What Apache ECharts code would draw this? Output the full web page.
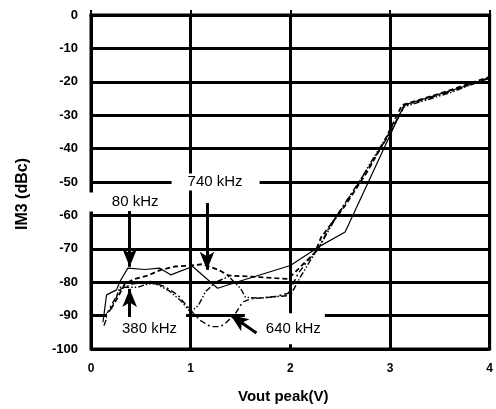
<!DOCTYPE html>
<html><head><meta charset="utf-8">
<script src="https://cdn.jsdelivr.net/npm/echarts@6/dist/echarts.min.js"></script>
<style>html,body{margin:0;padding:0;background:#fff}#c{width:496px;height:409px}</style>
</head><body><div id="c"></div>
<script>
// 80 kHz (solid)
const x80 = [0.12,0.156,0.256,0.29,0.37,0.54,0.69,0.80,1.02,1.27,1.45,2.0,2.28,2.55,3.14,4.0];
const y80 = [-92,-83.8,-82.3,-79.8,-75.8,-76.2,-75.8,-77.8,-75.3,-81.8,-80.1,-75,-69.5,-65,-27,-19];
// 380 kHz (dash-dot-dot)
const x380 = [0.13,0.18,0.25,0.29,0.47,0.57,0.65,0.78,0.9,1.0,1.08,1.15,1.25,1.38,1.5,1.55,1.7,1.9,2.0,2.1,2.2,2.28,2.45,2.65,2.85,3.0,3.14,3.6,4.0];
const y380 = [-93,-89,-85,-81.5,-81.5,-80.5,-80.5,-82.5,-85.5,-89,-86.8,-82.8,-80,-78.3,-81.8,-84.5,-84.8,-84.2,-84,-78.5,-73.5,-70,-61,-52,-42,-35,-27.5,-23.3,-18.8];
// 640 kHz (dash-dot)
const x640 = [0.15,0.22,0.3,0.42,0.6,0.74,0.87,1.0,1.1,1.2,1.3,1.36,1.45,1.52,1.6,1.85,1.98,2.08,2.18,2.28,2.4,2.6,2.8,3.0,3.15,3.6,4.0];
const y640 = [-90,-86,-82,-80.5,-79.8,-81.3,-83.8,-88.5,-91.5,-93.3,-93.3,-92,-89.3,-86,-85,-84.3,-83.3,-77.3,-73.4,-70,-63,-54,-45,-35.5,-27,-23,-18.7];
// 740 kHz (dashed)
const x740 = [0.2,0.26,0.34,0.44,0.57,0.7,0.84,1.0,1.12,1.28,1.38,1.58,1.85,1.98,2.25,2.31,2.54,2.78,2.94,3.12,3.5,4.0];
const y740 = [-88,-85,-80.5,-79,-78,-76.3,-75.3,-75,-74.6,-76.3,-78,-78.3,-78.8,-79,-71,-66.5,-57.5,-46.5,-38,-27,-23.5,-18.5];

const xTicks = [0,1,2,3,4];
const yTicks = [0,-10,-20,-30,-40,-50,-60,-70,-80,-90,-100];
const xTitle = 'Vout peak(V)';
const yTitle = 'IM3 (dBc)';

// annotation labels: [text, boxCenterX, boxCenterY]
const labels = [
  ['740 kHz', 1.25, -50],
  ['80 kHz', 0.443, -56],
  ['380 kHz', 0.557, -94],
  ['640 kHz', 1.945, -93.9]
];
// arrows: [fromX, fromY, toX, toY]
const arrows = [
  [0.388, -58.7, 0.388, -75.4],
  [1.164, -56.3, 1.164, -76.3],
  [0.388, -90.4, 0.388, -82.0],
  [1.66, -95.2, 1.40, -89.8]
];

const FONT = 'Liberation Sans, Arial, Helvetica, sans-serif';
const pads = [[0,17,0,16],[2,23,0,23],[11,9,4,15],[9,4,5,21]];

function zip(xs, ys){ return xs.map((x,i)=>[x, ys[i]]); }

const chart = echarts.init(document.getElementById('c'));
chart.setOption({
  animation: false,
  backgroundColor: '#fff',
  grid: {left: 91, right: 3, top: 15, bottom: 60, show: true, borderColor: '#000', borderWidth: 3, backgroundColor: 'transparent'},
  xAxis: {
    type: 'value', min: xTicks[0], max: xTicks[xTicks.length-1], interval: 1,
    name: xTitle, nameLocation: 'middle', nameGap: 40,
    nameTextStyle: {fontFamily: FONT, fontWeight: 'bold', fontSize: 15, color: '#000', padding: [0,14,0,0]},
    axisLine: {show: true, lineStyle: {color: '#000', width: 3}},
    axisTick: {show: true, inside: true, length: 5, lineStyle: {color: '#000', width: 2}},
    axisLabel: {margin: 14, fontFamily: FONT, fontWeight: 'bold', fontSize: 12, color: '#000'},
    splitLine: {show: true, lineStyle: {color: '#000', width: 3}}
  },
  yAxis: {
    type: 'value', min: yTicks[yTicks.length-1], max: yTicks[0], interval: 10,
    name: yTitle, nameLocation: 'middle', nameGap: 60,
    nameTextStyle: {fontFamily: FONT, fontWeight: 'bold', fontSize: 16, color: '#000', padding: [0,24,0,0]},
    axisLine: {show: true, lineStyle: {color: '#000', width: 3}},
    axisTick: {show: false},
    axisLabel: {margin: 13, fontFamily: FONT, fontWeight: 'bold', fontSize: 13, color: '#000'},
    splitLine: {show: true, lineStyle: {color: '#000', width: 3}}
  },
  series: [
    {name: '80 kHz', type: 'line', data: zip(x80, y80), showSymbol: false, symbol: 'none', z: 3,
      lineStyle: {color: '#000', width: 1.2, type: 'solid'},
      markPoint: {
        symbol: 'circle', symbolSize: 0, silent: true, z: 10,
        data: labels.map((l,i)=>({coord: [l[1], l[2]], value: l[0],
          label: {show: true, position: 'inside', formatter: l[0], color: '#000', fontFamily: FONT, fontSize: 15,
            lineHeight: 17, backgroundColor: '#fff', padding: pads[i]}}))
      },
      markLine: {
        silent: true, symbol: ['none','arrow'], symbolSize: [11,18], label: {show: false}, z: 11,
        lineStyle: {color: '#000', width: 3, type: 'solid'},
        data: arrows.map(a=>[{coord: [a[0], a[1]]}, {coord: [a[2], a[3]]}])
      }
    },
    {name: '380 kHz', type: 'line', data: zip(x380, y380), showSymbol: false, symbol: 'none', z: 3,
      lineStyle: {color: '#000', width: 1.4, type: [6,2,1.5,2,1.5,2]}},
    {name: '640 kHz', type: 'line', data: zip(x640, y640), showSymbol: false, symbol: 'none', z: 3,
      lineStyle: {color: '#000', width: 1.4, type: [6,3,2,3]}},
    {name: '740 kHz', type: 'line', data: zip(x740, y740), showSymbol: false, symbol: 'none', z: 3,
      lineStyle: {color: '#000', width: 1.8, type: [5,3]}}
  ]
});
</script>
</body></html>
